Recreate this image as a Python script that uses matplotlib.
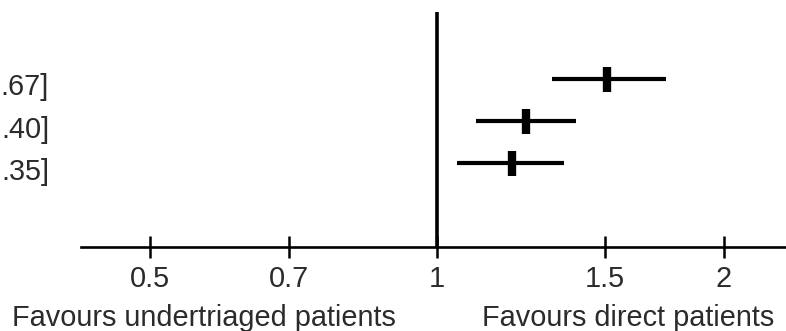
import matplotlib
matplotlib.use("Agg")
import matplotlib.pyplot as plt
import matplotlib.transforms as mtransforms
from matplotlib.ticker import NullLocator

# Data
rows = [1, 2, 3]
estimates = [1.51, 1.24, 1.20]
lower = [1.32, 1.10, 1.05]
upper = [1.74, 1.40, 1.36]
row_labels = [".67]", ".40]", ".35]"]
tick_values = [0.5, 0.7, 1, 1.5, 2]
tick_labels = ["0.5", "0.7", "1", "1.5", "2"]
left_caption = "Favours undertriaged patients"
right_caption = "Favours direct patients"

plt.rcParams['font.family'] = ['Liberation Sans', 'DejaVu Sans']
W, H = 786, 331
fig = plt.figure(figsize=(W / 100, H / 100), dpi=100)
ax = fig.add_axes([80.7 / W, 84.3 / H, (W - 80.7) / W, (246.7 - 12) / H])

ax.set_xscale('log')
ax.set_xlim(0.423, 2.324)
ax.set_ylim(4.97, -0.577)

txt_color = '#2b2b2b'
fs = 20.8
for r, e, lo, hi in zip(rows, estimates, lower, upper):
    ax.plot([lo, hi], [r, r], color='black', lw=3.0, solid_capstyle='butt', zorder=3)
    ax.plot([e], [r], marker='|', markersize=18, markeredgewidth=6, color='black', zorder=4)

ax.axvline(1, color='black', lw=2.6, zorder=2)

trans = mtransforms.blended_transform_factory(fig.transFigure, ax.transData)
trans = trans + mtransforms.ScaledTranslation(0, -12 / 72, fig.dpi_scale_trans)
for r, lab in zip(rows, row_labels):
    ax.text(49 / W, r, lab, transform=trans, ha='right', va='baseline',
            fontsize=fs, color=txt_color, clip_on=False)

for s in ['top', 'right', 'left']:
    ax.spines[s].set_visible(False)
ax.spines['bottom'].set_linewidth(1.9)
ax.set_yticks([])
ax.set_xticks(tick_values)
ax.set_xticklabels(tick_labels)
ax.xaxis.set_minor_locator(NullLocator())
ax.tick_params(axis='x', direction='inout', length=16, width=1.8, pad=5.5,
               labelsize=fs, labelcolor=txt_color, color='black')
ax.patch.set_visible(False)

fig.text(204 / W, 5 / H, left_caption, ha='center', va='baseline',
         fontsize=fs, color=txt_color)
fig.text(628 / W, 5 / H, right_caption, ha='center', va='baseline',
         fontsize=fs, color=txt_color)

fig.savefig('out.png', dpi=100)
